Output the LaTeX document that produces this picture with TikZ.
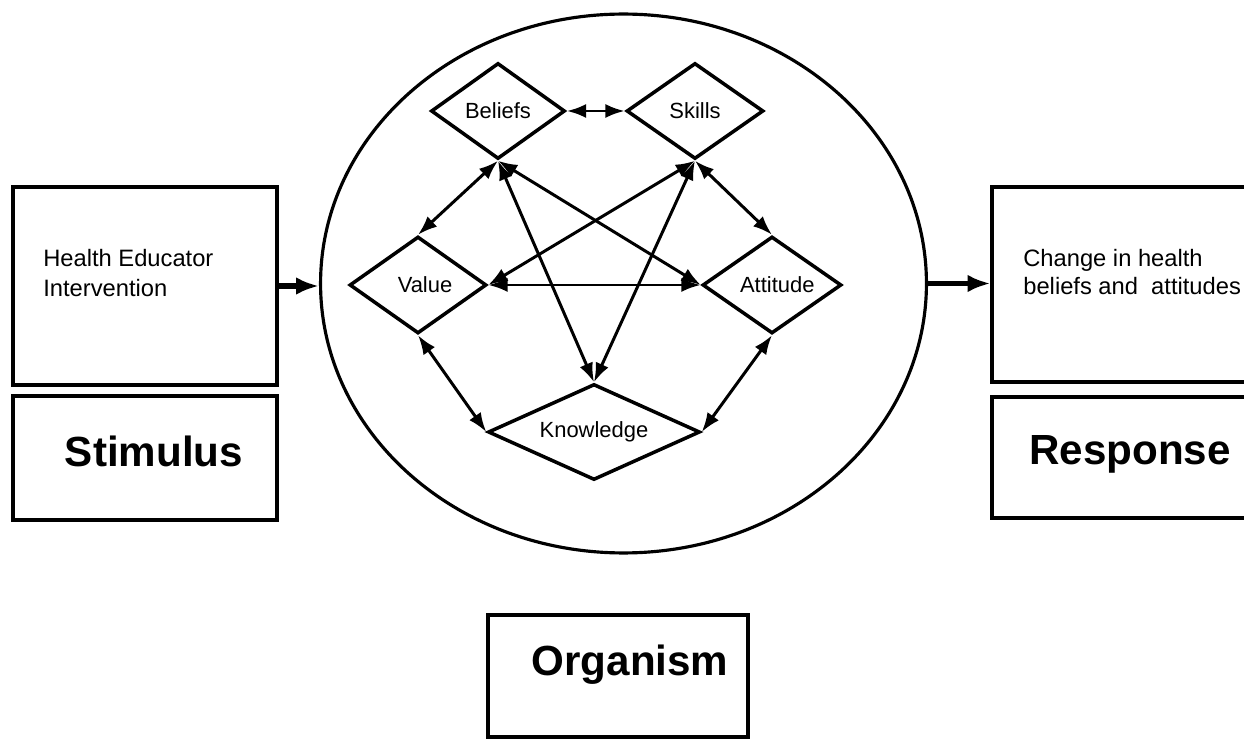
\documentclass[tikz,border=0pt]{standalone}
\usepackage{fontspec}
\setmainfont{Liberation Sans}
\usepackage{tikz}
\usetikzlibrary{arrows.meta,shapes,positioning}

\tikzset{
    factor/.style={diamond, draw, line width=2pt, inner sep=0pt, aspect=1.4, font=\fontsize{12.5}{14}\selectfont},
    box/.style={rectangle, draw, line width=1.8pt, inner sep=0pt},
    link/.style={{Latex[length=11pt,width=8pt]}-{Latex[length=11pt,width=8pt]}, line width=1.7pt},
    feed/.style={-{Latex[length=13pt,width=10pt]}, line width=3.2pt},
    bigword/.style={anchor=base, inner sep=0pt, font=\fontsize{24}{28}\selectfont\bfseries},
    note/.style={align=left, anchor=north west, inner sep=0pt}
}

\begin{document}
\begin{tikzpicture}[x=0.02cm, y=-0.02cm]
    \useasboundingbox (0,0) rectangle (1244,739);
    \clip (0,0) rectangle (1244,739);

    % Organism
    \node[ellipse, draw, line width=1.8pt, minimum width=12.12cm, minimum height=10.78cm] (org) at (623.5,283.5) {};

    % factors
    \node[factor, minimum width=2.68cm, minimum height=1.92cm] (beliefs) at (498,111) {Beliefs};
    \node[factor, minimum width=2.74cm, minimum height=1.92cm] (skills) at (695,111) {Skills};
    \node[factor, minimum width=2.74cm, minimum height=1.94cm] (value) at (418,285) {\hspace{8pt}Value};
    \node[factor, minimum width=2.78cm, minimum height=1.94cm] (attitude) at (772,285) {\hspace{6pt}Attitude};
    \node[factor, aspect=2.2, minimum width=4.24cm, minimum height=1.92cm] (knowledge) at (594,432) {Knowledge};

    % links between factors
    \draw[link] (beliefs.east) -- (skills.west);
    \draw[link] (beliefs.south) -- (value.north);
    \draw[link] (beliefs.south) -- (attitude.west);
    \draw[link] (beliefs.south) -- (knowledge.north);
    \draw[link] (skills.south) -- (value.east);
    \draw[link] (skills.south) -- (attitude.north);
    \draw[link] (skills.south) -- (knowledge.north);
    \draw[link] (value.east) -- (attitude.west);
    \draw[link] (value.south) -- (knowledge.west);
    \draw[link] (attitude.south) -- (knowledge.east);

    % Stimulus
    \node[box, minimum width=5.28cm, minimum height=3.96cm] (stimbox) at (145,286) {};
    \node[note, font=\fontsize{13.5}{17}\selectfont] (stimtext) at (43,249) {Health Educator\\Intervention};
    \node[box, minimum width=5.28cm, minimum height=2.48cm] (stimulus) at (145,458) {};
    \node[bigword] (stimword) at (154,467) {Stimulus};

    % Response
    \node[box, minimum width=6.16cm, minimum height=3.9cm] (respbox) at (1146,284.5) {};
    \node[note, font=\fontsize{13.5}{16}\selectfont] (resptext) at (1023,249) {Change in health\\beliefs and\ \ attitudes};
    \node[box, minimum width=6.16cm, minimum height=2.42cm] (response) at (1146,457.5) {};
    \node[bigword] (respword) at (1130,465) {Response};

    % label of the organism
    \node[box, minimum width=5.2cm, minimum height=2.44cm] (orgbox) at (618,676) {};
    \node[bigword] (orgword) at (630,675) {Organism};

    % flow
    \draw[feed] (stimbox.east) -- (stimbox.east -| org.west);
    \draw[feed] (org.east) -- (org.east -| respbox.west);
\end{tikzpicture}
\end{document}
